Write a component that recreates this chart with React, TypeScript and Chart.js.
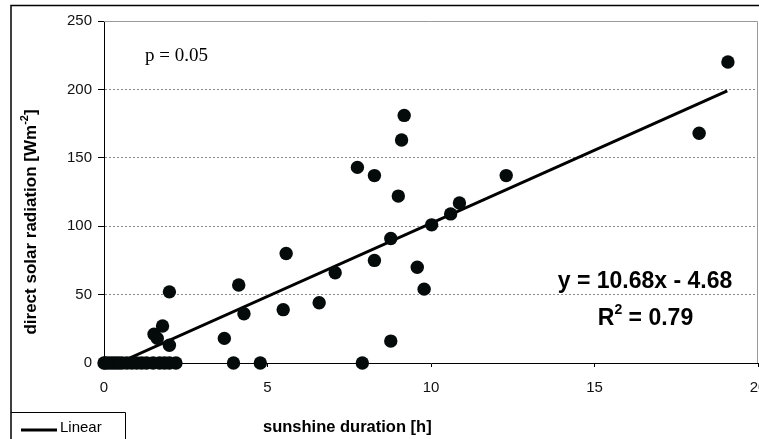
import React, { useEffect, useRef } from "react";
import { Chart, registerables } from "chart.js";

Chart.register(...registerables);

// sunshine duration [h]
const sunshineHours: number[] = [
  0, 0.05, 0.15, 0.25, 0.35, 0.45, 0.55, 0.7, 0.85, 1.0, 1.15, 1.3, 1.5, 1.7, 1.85, 2.0, 2.2,
  1.53, 1.63, 1.79, 2.0, 2.0, 3.68, 3.96, 4.12, 4.28, 4.78, 5.48, 5.57, 6.58, 7.07, 7.75, 7.9,
  8.27, 8.27, 8.77, 8.77, 9.0, 9.1, 9.18, 9.58, 9.79, 10.02, 10.6, 10.87, 12.3, 18.2, 19.08,
];
// direct solar radiation [W m-2]
const radiation: number[] = [
  0, 0, 0, 0, 0, 0, 0, 0, 0, 0, 0, 0, 0, 0, 0, 0, 0,
  21, 18, 27, 52, 13, 18, 0, 57, 36, 0, 39, 80, 44, 66, 143, 0,
  137, 75, 91, 16, 122, 163, 181, 70, 54, 101, 109, 117, 137, 168, 220,
];
// linear trend line end points
const trendX: number[] = [0.44, 19.06];
const trendY: number[] = [0, 198.9];

const xTicks: number[] = [0, 5, 10, 15, 20];
const yTicks: number[] = [0, 50, 100, 150, 200, 250];

const equationText = "y = 10.68x - 4.68";
const r2Value = "0.79";
const pText = "p = 0.05";
const xTitle = "sunshine duration [h]";
const yTitleMain = "direct solar radiation [Wm";
const yTitleSup = "-2";
const legendLabel = "Linear";

const SANS = "'Liberation Sans', Arial, Helvetica, sans-serif";
const SERIF = "'Liberation Serif', 'Times New Roman', serif";

const overlayPlugin = {
  id: "overlay",
  beforeDatasetsDraw(chart: any) {
    const { ctx, chartArea } = chart;
    ctx.save();
    ctx.strokeStyle = "#9a9a9a";
    ctx.lineWidth = 1;
    ctx.beginPath();
    ctx.moveTo(chartArea.left, chartArea.top + 0.5);
    ctx.lineTo(chartArea.right - 0.5, chartArea.top + 0.5);
    ctx.lineTo(chartArea.right - 0.5, chartArea.bottom);
    ctx.stroke();
    ctx.restore();
  },
  afterDraw(chart: any) {
    const { ctx } = chart;
    ctx.save();
    // outer frame
    ctx.strokeStyle = "#000";
    ctx.lineWidth = 1.5;
    ctx.beginPath();
    ctx.moveTo(11, 439);
    ctx.lineTo(11, 5.5);
    ctx.lineTo(759, 5.5);
    ctx.stroke();

    // legend box
    ctx.lineWidth = 1;
    ctx.strokeStyle = "#000";
    ctx.beginPath();
    ctx.moveTo(11, 412.5);
    ctx.lineTo(125.5, 412.5);
    ctx.lineTo(125.5, 440);
    ctx.stroke();
    ctx.lineWidth = 3;
    ctx.beginPath();
    ctx.moveTo(21, 430);
    ctx.lineTo(57, 430);
    ctx.stroke();
    ctx.fillStyle = "#000";
    ctx.font = `15px ${SANS}`;
    ctx.textAlign = "left";
    ctx.textBaseline = "middle";
    ctx.fillText(legendLabel, 60, 428);

    // x title
    ctx.font = `bold 16.5px ${SANS}`;
    ctx.textAlign = "left";
    ctx.fillText(xTitle, 263, 427);

    // y title (rotated)
    ctx.save();
    ctx.translate(31, 222);
    ctx.rotate(-Math.PI / 2);
    ctx.font = `bold 17px ${SANS}`;
    const wMain = ctx.measureText(yTitleMain).width;
    ctx.font = `bold 11px ${SANS}`;
    const wSup = ctx.measureText(yTitleSup).width;
    ctx.font = `bold 17px ${SANS}`;
    const wEnd = ctx.measureText("]").width;
    const total = wMain + wSup + wEnd;
    let x0 = -total / 2;
    ctx.textAlign = "left";
    ctx.textBaseline = "middle";
    ctx.fillText(yTitleMain, x0, 0);
    x0 += wMain;
    ctx.font = `bold 11px ${SANS}`;
    ctx.fillText(yTitleSup, x0, -6);
    x0 += wSup;
    ctx.font = `bold 17px ${SANS}`;
    ctx.fillText("]", x0, 0);
    ctx.restore();

    // p value
    ctx.font = `19px ${SERIF}`;
    ctx.textAlign = "left";
    ctx.textBaseline = "middle";
    ctx.fillText(pText, 145, 56);

    // equation
    ctx.font = `bold 23px ${SANS}`;
    ctx.textAlign = "center";
    ctx.fillText(equationText, 645, 282);

    // R^2
    ctx.font = `bold 23px ${SANS}`;
    const wR = ctx.measureText("R").width;
    const rest = " = " + r2Value;
    const wRest = ctx.measureText(rest).width;
    ctx.font = `bold 14px ${SANS}`;
    const w2 = ctx.measureText("2").width;
    const tot = wR + w2 + wRest;
    let rx = 645.5 - tot / 2;
    ctx.textAlign = "left";
    ctx.font = `bold 23px ${SANS}`;
    ctx.fillText("R", rx, 319);
    rx += wR;
    ctx.font = `bold 14px ${SANS}`;
    ctx.fillText("2", rx, 310);
    rx += w2;
    ctx.font = `bold 23px ${SANS}`;
    ctx.fillText(rest, rx, 319);

    ctx.restore();
  },
};

export default function App() {
  const ref = useRef<HTMLCanvasElement | null>(null);

  useEffect(() => {
    document.body.style.margin = "0";
    if (!ref.current) return;
    const points = sunshineHours.map((x, i) => ({ x, y: radiation[i] }));
    const trend = trendX.map((x, i) => ({ x, y: trendY[i] }));
    const chart = new Chart(ref.current, {
      type: "scatter",
      data: {
        datasets: [
          {
            label: "data",
            data: points,
            backgroundColor: "#050a0a",
            borderColor: "#050a0a",
            pointRadius: 6.7,
            pointHoverRadius: 6.7,
            borderWidth: 0,
            clip: false,
          } as any,
          {
            label: legendLabel,
            type: "line",
            data: trend,
            borderColor: "#000",
            borderWidth: 3,
            pointRadius: 0,
            showLine: true,
            fill: false,
          } as any,
        ],
      },
      plugins: [overlayPlugin],
      options: {
        animation: false,
        responsive: false,
        devicePixelRatio: 1,
        events: [],
        layout: { autoPadding: false, padding: { left: 0, right: 1, top: 21, bottom: 0 } },
        plugins: {
          legend: { display: false },
          tooltip: { enabled: false },
          title: { display: false },
        },
        scales: {
          x: {
            type: "linear",
            min: 0,
            max: 20,
            afterFit: (s: any) => {
              s.height = 76;
              s.paddingLeft = 0;
              s.paddingRight = 0;
            },
            afterBuildTicks: (s: any) => {
              s.ticks = xTicks.map((v) => ({ value: v }));
            },
            ticks: {
              color: "#111",
              font: { family: SANS, size: 15 },
              padding: 12,
              maxRotation: 0,
              autoSkip: false,
            },
            grid: {
              drawOnChartArea: false,
              drawTicks: true,
              tickLength: 4,
              tickColor: "#000",
            },
            border: { display: true, color: "#000", width: 1 },
          },
          y: {
            type: "linear",
            min: 0,
            max: 250,
            afterFit: (s: any) => {
              s.width = 104;
              s.paddingTop = 0;
              s.paddingBottom = 0;
            },
            afterBuildTicks: (s: any) => {
              s.ticks = yTicks.map((v) => ({ value: v }));
            },
            ticks: {
              color: "#111",
              font: { family: SANS, size: 15 },
              padding: 6,
            },
            grid: {
              drawOnChartArea: true,
              drawTicks: true,
              tickLength: 6,
              tickColor: "#000",
              color: (c: any) =>
                c.tick && (c.tick.value === 0 || c.tick.value === 250) ? "rgba(0,0,0,0)" : "#8a8a8a",
              lineWidth: 1,
            },
            border: { display: true, color: "#000", width: 1, dash: [2, 2] },
          },
        },
      } as any,
    });
    return () => chart.destroy();
  }, []);

  return (
    <div style={{ position: "absolute", left: 0, top: 0, width: 759, height: 439 }}>
      <canvas ref={ref} width={759} height={439} style={{ display: "block" }} />
    </div>
  );
}
